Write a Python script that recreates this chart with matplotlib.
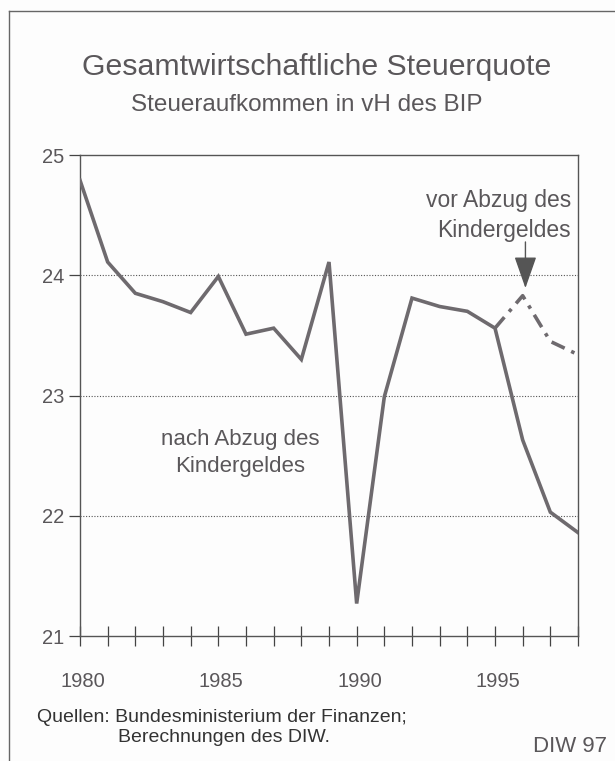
import matplotlib
matplotlib.use("Agg")
import matplotlib.pyplot as plt
from matplotlib.lines import Line2D

years = list(range(1980, 1999))
nach_abzug = [24.79, 24.11, 23.85, 23.78, 23.69, 23.99, 23.51, 23.56, 23.30, 24.11,
              21.27, 22.99, 23.81, 23.74, 23.70, 23.56, 22.63, 22.03, 21.86]
vor_years = [1995, 1996, 1997, 1998]
vor_abzug = [23.56, 23.83, 23.45, 23.34]
yticks = [21, 22, 23, 24, 25]
xlabels = [1980, 1985, 1990, 1995]

plt.rcParams['font.family'] = ['Liberation Sans', 'DejaVu Sans']
txt = '#5a575a'
linec = '#6e6a6e'

fig = plt.figure(figsize=(6.15, 7.61), dpi=100)
fig.patch.set_facecolor('#fdfdfd')
ax = fig.add_axes([80/615, 1-636/761, 498/615, 481/761])
ax.set_facecolor('#fdfdfd')

ax.plot(years, nach_abzug, color=linec, lw=2.6, solid_joinstyle='miter', zorder=3)
ax.plot(vor_years, vor_abzug, color=linec, lw=2.6, linestyle=(0, (4, 2, 1, 2)), zorder=3)

ax.set_xlim(1980, 1998)
ax.set_ylim(21, 25)
for yv in [22, 23, 24]:
    ax.axhline(yv, color='#555555', lw=0.8, linestyle=(0, (1, 1.5)), zorder=1)

ax.set_yticks(yticks)
ax.set_yticklabels([str(v) for v in yticks], fontsize=14.5, color=txt)
ax.tick_params(axis='y', direction='out', length=8, width=0.9, color='#444444', pad=3)
ax.set_xticks(years)
ax.set_xticklabels([])
ax.tick_params(axis='x', direction='inout', length=14, width=0.9, color='#444444')
for s in ax.spines.values():
    s.set_color('#555555')
    s.set_linewidth(1.0)

for yr in xlabels:
    ax.text(yr + 0.1, 20.62, str(yr), ha='center', va='center', fontsize=14.5, color=txt)

ax.text(1997.75, 24.5, 'vor Abzug des\nKindergeldes', ha='right', va='center',
        fontsize=16.5, color=txt, linespacing=1.4)
ax.annotate('', xy=(1996.1, 23.87), xytext=(1996.1, 24.3),
            arrowprops=dict(arrowstyle='-|>,head_width=0.35,head_length=1.0',
                            color='#555555', lw=1.0, mutation_scale=20))
ax.text(1985.8, 22.52, 'nach Abzug des\nKindergeldes', ha='center', va='center',
        fontsize=16, color=txt, linespacing=1.4)

fig.text(317/615, 1-67/761, 'Gesamtwirtschaftliche Steuerquote', ha='center', va='center',
         fontsize=21.8, color=txt)
fig.text(307/615, 1-105/761, 'Steueraufkommen in vH des BIP', ha='center', va='center',
         fontsize=17.5, color=txt)
fig.text(37/615, 1-717/761, 'Quellen: Bundesministerium der Finanzen;', ha='left', va='center',
         fontsize=14, color='#333333')
fig.text(118/615, 1-737/761, 'Berechnungen des DIW.', ha='left', va='center',
         fontsize=14, color='#333333')
fig.text(607/615, 1-746/761, 'DIW 97', ha='right', va='center', fontsize=16, color=txt)

fig.add_artist(Line2D([9/615, 1.0], [1-11/761, 1-11/761], color='#666666', lw=1.0))
fig.add_artist(Line2D([9/615, 9/615], [1-11/761, 0.0], color='#666666', lw=1.0))

fig.savefig('out.png', dpi=100, facecolor=fig.get_facecolor())
